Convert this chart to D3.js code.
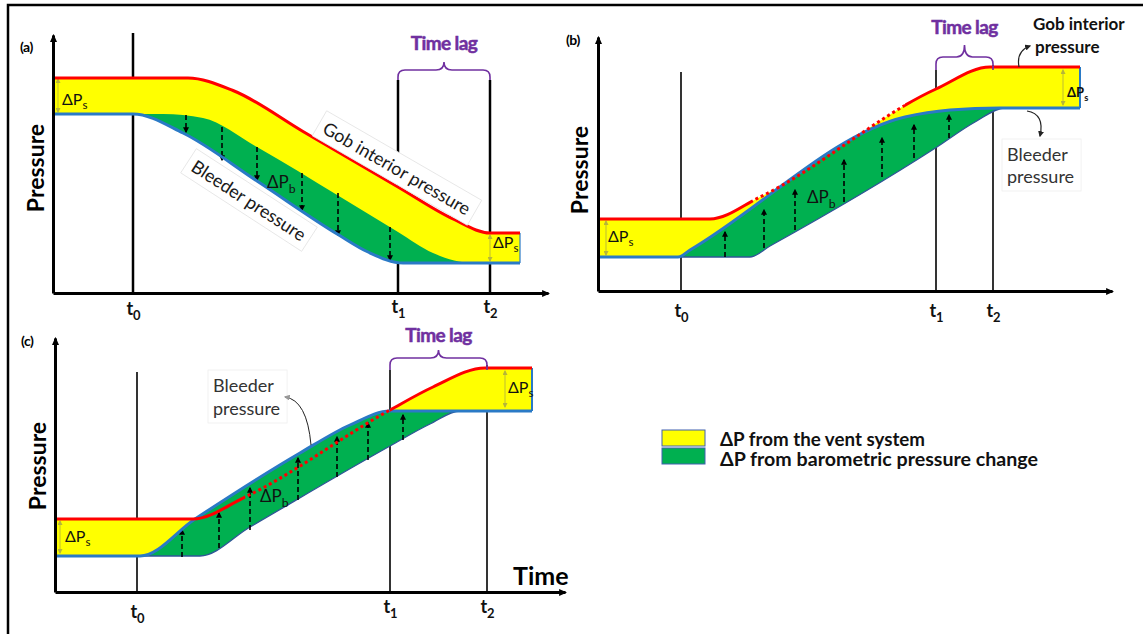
<!DOCTYPE html>
<html>
<head>
<meta charset="utf-8">
<script src="https://cdn.jsdelivr.net/npm/d3@7"></script>
<style>
  body { margin: 0; background: #fff; }
  svg { display: block; }
  text { font-family: Lato, "Open Sans", "DejaVu Sans", sans-serif; }
</style>
</head>
<body>
<svg id="fig" width="1143" height="634"></svg>
<script>
// ---------------- data (time, pressure) in schematic units ----------------
// event times t0, t1, t2 for each panel
const tickNames = ["0", "1", "2"];
const timesA = [16, 69, 87.4];
const timesB = [16.6, 67.6, 79];
const timesC = [16.4, 67, 86.4];
// top of each event marker line
const tTopA = [52, 42.6, 42.6];
const tTopB = [43.8, 44.2, 45.2];
const tTopC = [44, 44.4, 45.4];

// (a) barometric pressure falling
const gobA      = [[0, 43], [27, 43], [36, 40.5], [50, 32.3], [69, 21.2], [80, 14.8], [87.4, 12], [93.4, 12]];
const bleederA  = [[0, 35.8], [16, 35.8], [26, 32], [40.8, 22.4], [57, 11.7], [63, 8.2], [70, 6], [93.4, 6]];
const ventEdgeA = [[0, 35.8], [22, 35.8], [30, 35], [40.8, 29.2], [57, 19.5], [69, 12.2], [76, 8], [84, 6], [93.4, 6]];

// (b) barometric pressure rising, gob follows
const gobB      = [[0, 14.4], [22.4, 14.4], [32.4, 18.8], [67.6, 40.4], [78.4, 44.8], [96.4, 44.8]];
const bleederB  = [[0, 6.8], [16, 6.8], [18.4, 8.2], [61.4, 34.8], [70.4, 36.2], [80.4, 36.6], [96.4, 36.6]];
const baroEdgeB = [[0, 6.8], [30.4, 6.8], [34.4, 9], [67.8, 28.8], [75.4, 33.8], [81.4, 36.6], [96.4, 36.6]];

// (c) barometric pressure rising, gob lags below bleeder
const gobC      = [[0, 14.6], [27.6, 14.6], [38, 19], [67, 36.4], [75.6, 41], [86, 44.8], [95.4, 44.8]];
const bleederC  = [[0, 7.2], [17, 7.2], [28, 14.6], [49, 27.8], [59, 33.4], [67, 36.2], [95.4, 36.2]];
const baroEdgeC = [[0, 7.2], [29, 7.2], [39, 13], [67, 29.2], [75, 33.6], [81, 36.2], [95.4, 36.2]];

// dotted stretch of the gob curve (time range)
const dottedB = [30.8, 61.4];
const dottedC = [38, 67];

// barometric ΔP arrows: [time, from, to]
const arrowsA = [[26.6, 35.6, 32.2], [33.8, 33.2, 26.6], [40.8, 29.2, 22.6], [49.8, 24, 16.6], [57, 20, 11.6], [67.4, 13.2, 6.6]];
const arrowsB = [[25.4, 6.8, 11.8], [33.2, 8.6, 16.2], [39.4, 12.2, 20.2], [49.2, 17.8, 26.2], [56.8, 22.8, 30.6], [63.2, 26.6, 33.2], [70.2, 30.6, 35.2]];
const arrowsC = [[25.4, 7, 12.4], [32.8, 8.8, 15.8], [39, 12.4, 20.8], [48.6, 18.4, 26.8], [56.4, 23, 31], [62.6, 26.4, 33.8], [69.6, 30.4, 35.4]];

// ΔPs spans: [time, top, bottom]
const dPsA = [[1, 42.8, 36.2], [87.4, 11.6, 6.4]];
const dPsB = [[1.6, 14, 7.2], [93, 44.2, 37.2]];
const dPsC = [[1, 14.2, 7.8], [90, 44.2, 37]];

const legendLabels = ["ΔP from the vent system", "ΔP from barometric pressure change"];
const legendColors = ["#ffff00", "#00b050"];

// ---------------- styling ----------------
const RED = "#ff0000", BLUE = "#2a7ac6", GREEN = "#00b050", YELLOW = "#ffff00", PURPLE = "#7030a0";
const PX = 5; // pixels per schematic unit

const svg = d3.select("#fig");
const defs = svg.append("defs");

function marker(id, w, h, color) {
  defs.append("marker")
    .attr("id", id).attr("viewBox", `0 0 ${w} ${h}`)
    .attr("refX", w * 0.8).attr("refY", h / 2)
    .attr("markerWidth", w).attr("markerHeight", h)
    .attr("markerUnits", "userSpaceOnUse").attr("orient", "auto-start-reverse")
    .append("path").attr("d", `M0,0L${w},${h / 2}L0,${h}Z`).attr("fill", color);
}
marker("axisHead", 8, 7, "#000");
marker("dashHead", 6, 6, "#000");
marker("spanHead", 5, 5, "#b5b53a");
marker("noteHead", 6, 6, "#222");
marker("greyHead", 6, 6, "#999");

// outer frame
svg.append("path").attr("d", "M8,634V5H1143").attr("fill", "none").attr("stroke", "#000").attr("stroke-width", 2.5);

function bracePath(x0, x1, yLeg, yTop, yTip) {
  const r = 7, xm = (x0 + x1) / 2;
  return `M${x0},${yLeg}V${yTop + r}Q${x0},${yTop} ${x0 + r},${yTop}H${xm - 8}` +
    `Q${xm},${yTop} ${xm},${yTip}Q${xm},${yTop} ${xm + 8},${yTop}H${x1 - r}` +
    `Q${x1},${yTop} ${x1},${yTop + r}V${yLeg}`;
}

function subText(g, x, y, main, sub, size, weight, anchor) {
  const t = g.append("text").attr("x", x).attr("y", y)
    .attr("font-size", size).attr("font-weight", weight || "normal")
    .attr("text-anchor", anchor || "start").attr("fill", "#111");
  t.append("tspan").text(main);
  t.append("tspan").attr("dy", size * 0.28).attr("font-size", size * 0.72).text(sub);
  return t;
}

function drawPanel(cfg) {
  const [ox, oy] = cfg.origin;
  const x = d3.scaleLinear().domain([0, cfg.xEnd]).range([ox, ox + cfg.xEnd * PX]);
  const y = d3.scaleLinear().domain([0, cfg.yEnd]).range([oy, oy - cfg.yEnd * PX]);
  const line = d3.line().x(d => x(d[0])).y(d => y(d[1])).curve(d3.curveMonotoneX);
  const band = (top, bottom) => line(top) + "L" + line(bottom.slice().reverse()).slice(1) + "Z";
  const g = svg.append("g");

  // event marker lines t0, t1, t2
  g.selectAll("line.evt").data(cfg.times).join("line")
    .attr("x1", d => x(d)).attr("x2", d => x(d))
    .attr("y1", y(0)).attr("y2", (d, i) => y(cfg.tTops[i]))
    .attr("stroke", "#000").attr("stroke-width", cfg.tWidth);

  // ΔP from the vent system (between gob and bleeder)
  g.append("path").attr("d", band(cfg.gob, cfg.bleeder)).attr("fill", YELLOW);
  // ΔP from barometric change
  g.append("path").attr("d", band(cfg.gTop, cfg.gBottom)).attr("fill", GREEN);
  if (cfg.edge) {
    g.append("path").attr("d", line(cfg.gBottom)).attr("fill", "none")
      .attr("stroke", "#2f5597").attr("stroke-width", 1.3);
  }
  // right-hand closing edge
  const gl = cfg.gob[cfg.gob.length - 1], bl = cfg.bleeder[cfg.bleeder.length - 1];
  g.append("line").attr("x1", x(gl[0])).attr("x2", x(bl[0])).attr("y1", y(gl[1])).attr("y2", y(bl[1]))
    .attr("stroke", BLUE).attr("stroke-width", cfg.edge ? 2 : 1.2);

  // dashed ΔPb arrows
  g.selectAll("line.arr").data(cfg.arrows).join("line")
    .attr("x1", d => x(d[0])).attr("x2", d => x(d[0]))
    .attr("y1", d => y(d[1])).attr("y2", d => y(d[2]))
    .attr("stroke", "#000").attr("stroke-width", 1.6).attr("stroke-dasharray", "5,3")
    .attr("marker-end", "url(#dashHead)");

  // ΔPs span arrows
  g.selectAll("line.span").data(cfg.dPs).join("line")
    .attr("x1", d => x(d[0])).attr("x2", d => x(d[0]))
    .attr("y1", d => y(d[1])).attr("y2", d => y(d[2]))
    .attr("stroke", "#b5b53a").attr("stroke-width", 0.9)
    .attr("marker-start", "url(#spanHead)").attr("marker-end", "url(#spanHead)");

  // bleeder pressure curve
  g.append("path").attr("d", line(cfg.bleeder)).attr("fill", "none")
    .attr("stroke", BLUE).attr("stroke-width", 3);

  // gob interior pressure curve (dotted where it runs along the bleeder curve)
  if (cfg.dotted) {
    const id = "clip" + cfg.key;
    const [a, b] = cfg.dotted.map(x);
    const solid = defs.append("clipPath").attr("id", id + "s");
    solid.append("rect").attr("x", 0).attr("y", 0).attr("width", a).attr("height", 634);
    solid.append("rect").attr("x", b).attr("y", 0).attr("width", 1143 - b).attr("height", 634);
    defs.append("clipPath").attr("id", id + "d")
      .append("rect").attr("x", a).attr("y", 0).attr("width", b - a).attr("height", 634);
    g.append("path").attr("d", line(cfg.gob)).attr("fill", "none").attr("stroke", RED)
      .attr("stroke-width", 3).attr("clip-path", `url(#${id}s)`);
    g.append("path").attr("d", line(cfg.gob)).attr("fill", "none").attr("stroke", RED)
      .attr("stroke-width", 3).attr("stroke-dasharray", "3,3").attr("clip-path", `url(#${id}d)`);
  } else {
    g.append("path").attr("d", line(cfg.gob)).attr("fill", "none")
      .attr("stroke", RED).attr("stroke-width", 3);
  }

  // axes
  const xAxis = d3.axisBottom(x).tickValues(cfg.times).tickSize(0).tickSizeOuter(0).tickFormat("");
  const yAxis = d3.axisLeft(y).tickValues([]).tickSizeOuter(0);
  const xa = g.append("g").attr("transform", `translate(0,${y(0)})`).call(xAxis);
  const ya = g.append("g").attr("transform", `translate(${x(0)},0)`).call(yAxis);
  [xa, ya].forEach(a => a.select(".domain").attr("stroke", "#000").attr("stroke-width", 3)
    .attr("marker-end", "url(#axisHead)"));
  // t labels with subscripts
  xa.selectAll(".tick").each(function (d, i) {
    const tk = d3.select(this);
    tk.select("text").remove();
    subText(tk, 0, cfg.tLabelDy[i], "t", tickNames[i], 18, "bold", "middle");
  });

  // time lag brace
  g.append("path")
    .attr("d", bracePath(x(cfg.times[1]), x(cfg.times[2]), y(cfg.brace[0]), y(cfg.brace[1]), y(cfg.brace[2])))
    .attr("fill", "none").attr("stroke", PURPLE).attr("stroke-width", 1.6);
  g.append("text").attr("x", x((cfg.times[1] + cfg.times[2]) / 2)).attr("y", y(cfg.lagText))
    .attr("text-anchor", "middle").attr("font-size", 19).attr("font-weight", "bold")
    .attr("fill", PURPLE).attr("stroke", PURPLE).attr("stroke-width", 0.5)
    .attr("letter-spacing", -0.6).text("Time lag");

  // panel tag and axis title
  g.append("text").attr("x", x(cfg.tag[0])).attr("y", y(cfg.tag[1]))
    .attr("font-size", 14).attr("font-weight", "bold").attr("letter-spacing", -0.5).text(cfg.label);
  g.append("text").attr("transform", `translate(${x(cfg.ytitle[0])},${y(cfg.ytitle[1])}) rotate(-90)`)
    .attr("text-anchor", "middle").attr("dominant-baseline", "central")
    .attr("font-size", 23).attr("font-weight", "bold").text("Pressure");

  return { g, x, y };
}

function boxedRotated(g, cx, cy, angle, str, size) {
  const grp = g.append("g").attr("transform", `translate(${cx},${cy}) rotate(${angle})`);
  const t = grp.append("text").attr("text-anchor", "middle").attr("dominant-baseline", "central")
    .attr("font-size", size).attr("fill", "#1a1a1a").text(str);
  const w = t.node().getComputedTextLength();
  grp.insert("rect", "text").attr("x", -w / 2 - 6).attr("y", -size * 0.8).attr("width", w + 12)
    .attr("height", size * 1.6).attr("fill", "#fff").attr("stroke", "#e4e4e4").attr("stroke-width", 0.8);
}

function boxedLines(g, x0, y0, lines, size, gap) {
  const grp = g.append("g");
  const t = grp.append("text").attr("font-size", size).attr("fill", "#333");
  lines.forEach((s, i) => t.append("tspan").attr("x", x0).attr("y", y0 + i * gap).text(s));
  const bb = t.node().getBBox();
  grp.insert("rect", "text").attr("x", bb.x - 5).attr("y", bb.y - 4).attr("width", bb.width + 12)
    .attr("height", bb.height + 8).attr("fill", "#fff").attr("stroke", "#eeeeee").attr("stroke-width", 0.8);
}

// ---------------- panel (a) ----------------
const A = drawPanel({
  key: "a", label: "(a)", origin: [53, 293], xEnd: 99, yEnd: 51.6,
  times: timesA, tTops: tTopA, tWidth: 2.5, tLabelDy: [22, 20, 20],
  gob: gobA, bleeder: bleederA, gTop: ventEdgeA, gBottom: bleederA, edge: false, dotted: null,
  arrows: arrowsA, dPs: dPsA, brace: [42.6, 44.6, 46.2], lagText: 48.6,
  tag: [-6.6, 48.2], ytitle: [-3.6, 25]
});
subText(A.g, A.x(1.8), A.y(37.6), "ΔP", "s", 16);
subText(A.g, A.x(88), A.y(9), "ΔP", "s", 16);
subText(A.g, A.x(42.8), A.y(21), "ΔP", "b", 17);
boxedRotated(A.g, A.x(68.8), A.y(25), 30, "Gob interior pressure", 18);
boxedRotated(A.g, A.x(39.2), A.y(18.6), 33, "Bleeder pressure", 18);

// ---------------- panel (b) ----------------
const B = drawPanel({
  key: "b", label: "(b)", origin: [598, 291], xEnd: 102.8, yEnd: 50.8,
  times: timesB, tTops: tTopB, tWidth: 1.6, tLabelDy: [26, 26, 26],
  gob: gobB, bleeder: bleederB, gTop: bleederB, gBottom: baroEdgeB, edge: true, dotted: dottedB,
  arrows: arrowsB, dPs: dPsB, brace: [44.2, 46.8, 49.2], lagText: 51.4,
  tag: [-6.4, 49.2], ytitle: [-3.8, 24.2]
});
subText(B.g, B.x(2), B.y(9.8), "ΔP", "s", 16);
subText(B.g, B.x(93.8), B.y(38.8), "ΔP", "s", 13, "bold");
subText(B.g, B.x(41.8), B.y(17.6), "ΔP", "b", 17);
B.g.append("text").attr("font-size", 17).attr("font-weight", "bold").attr("fill", "#111")
  .selectAll("tspan").data(["Gob interior", "pressure"]).join("tspan")
  .attr("x", (d, i) => B.x(87 + i * 0.4)).attr("y", (d, i) => B.y(i ? 47.6 : 52.2)).text(d => d);
boxedLines(B.g, B.x(81.8), B.y(26), ["Bleeder", "pressure"], 18, 22);
B.g.append("path")
  .attr("d", `M${B.x(84.2)},${B.y(44.8)}Q${B.x(83.6)},${B.y(48)} ${B.x(86.4)},${B.y(49)}`)
  .attr("fill", "none").attr("stroke", "#222").attr("stroke-width", 1.2).attr("marker-end", "url(#noteHead)");
B.g.append("path")
  .attr("d", `M${B.x(85.8)},${B.y(36)}Q${B.x(89.4)},${B.y(35.4)} ${B.x(88.4)},${B.y(31)}`)
  .attr("fill", "none").attr("stroke", "#222").attr("stroke-width", 1.2).attr("marker-end", "url(#noteHead)");

// ---------------- panel (c) ----------------
const C = drawPanel({
  key: "c", label: "(c)", origin: [55, 592], xEnd: 102, yEnd: 50.8,
  times: timesC, tTops: tTopC, tWidth: 1.6, tLabelDy: [26, 21, 21],
  gob: gobC, bleeder: bleederC, gTop: bleederC, gBottom: baroEdgeC, edge: true, dotted: dottedC,
  arrows: arrowsC, dPs: dPsC, brace: [44.4, 46.8, 48.4], lagText: 50,
  tag: [-6.8, 49.2], ytitle: [-3.6, 25.2]
});
subText(C.g, C.x(2), C.y(10), "ΔP", "s", 16);
subText(C.g, C.x(90.6), C.y(39.8), "ΔP", "s", 16);
subText(C.g, C.x(41), C.y(18), "ΔP", "b", 17);
boxedLines(C.g, C.x(31.6), C.y(40), ["Bleeder", "pressure"], 18, 23);
C.g.append("path")
  .attr("d", `M${C.x(51.2)},${C.y(29.4)}Q${C.x(50.4)},${C.y(38.4)} ${C.x(46)},${C.y(39)}`)
  .attr("fill", "none").attr("stroke", "#222").attr("stroke-width", 1).attr("marker-end", "url(#greyHead)");
C.g.append("text").attr("x", C.x(91.6)).attr("y", C.y(1.4)).attr("font-size", 25)
  .attr("font-weight", "bold").text("Time");

// ---------------- legend ----------------
const legendWidths = [205, 318];
const leg = svg.append("g").attr("transform", "translate(662,430)");
leg.selectAll("rect").data(legendColors).join("rect")
  .attr("x", 0).attr("y", (d, i) => i * 18).attr("width", 43).attr("height", 16)
  .attr("fill", d => d).attr("stroke", "#4060b0").attr("stroke-width", 1);
leg.selectAll("text").data(legendLabels).join("text")
  .attr("x", 58).attr("y", (d, i) => 16 + i * 20)
  .attr("font-size", 18).attr("font-weight", "bold").attr("fill", "#111")
  .attr("textLength", (d, i) => legendWidths[i]).attr("lengthAdjust", "spacingAndGlyphs")
  .text(d => d);
</script>
</body>
</html>
